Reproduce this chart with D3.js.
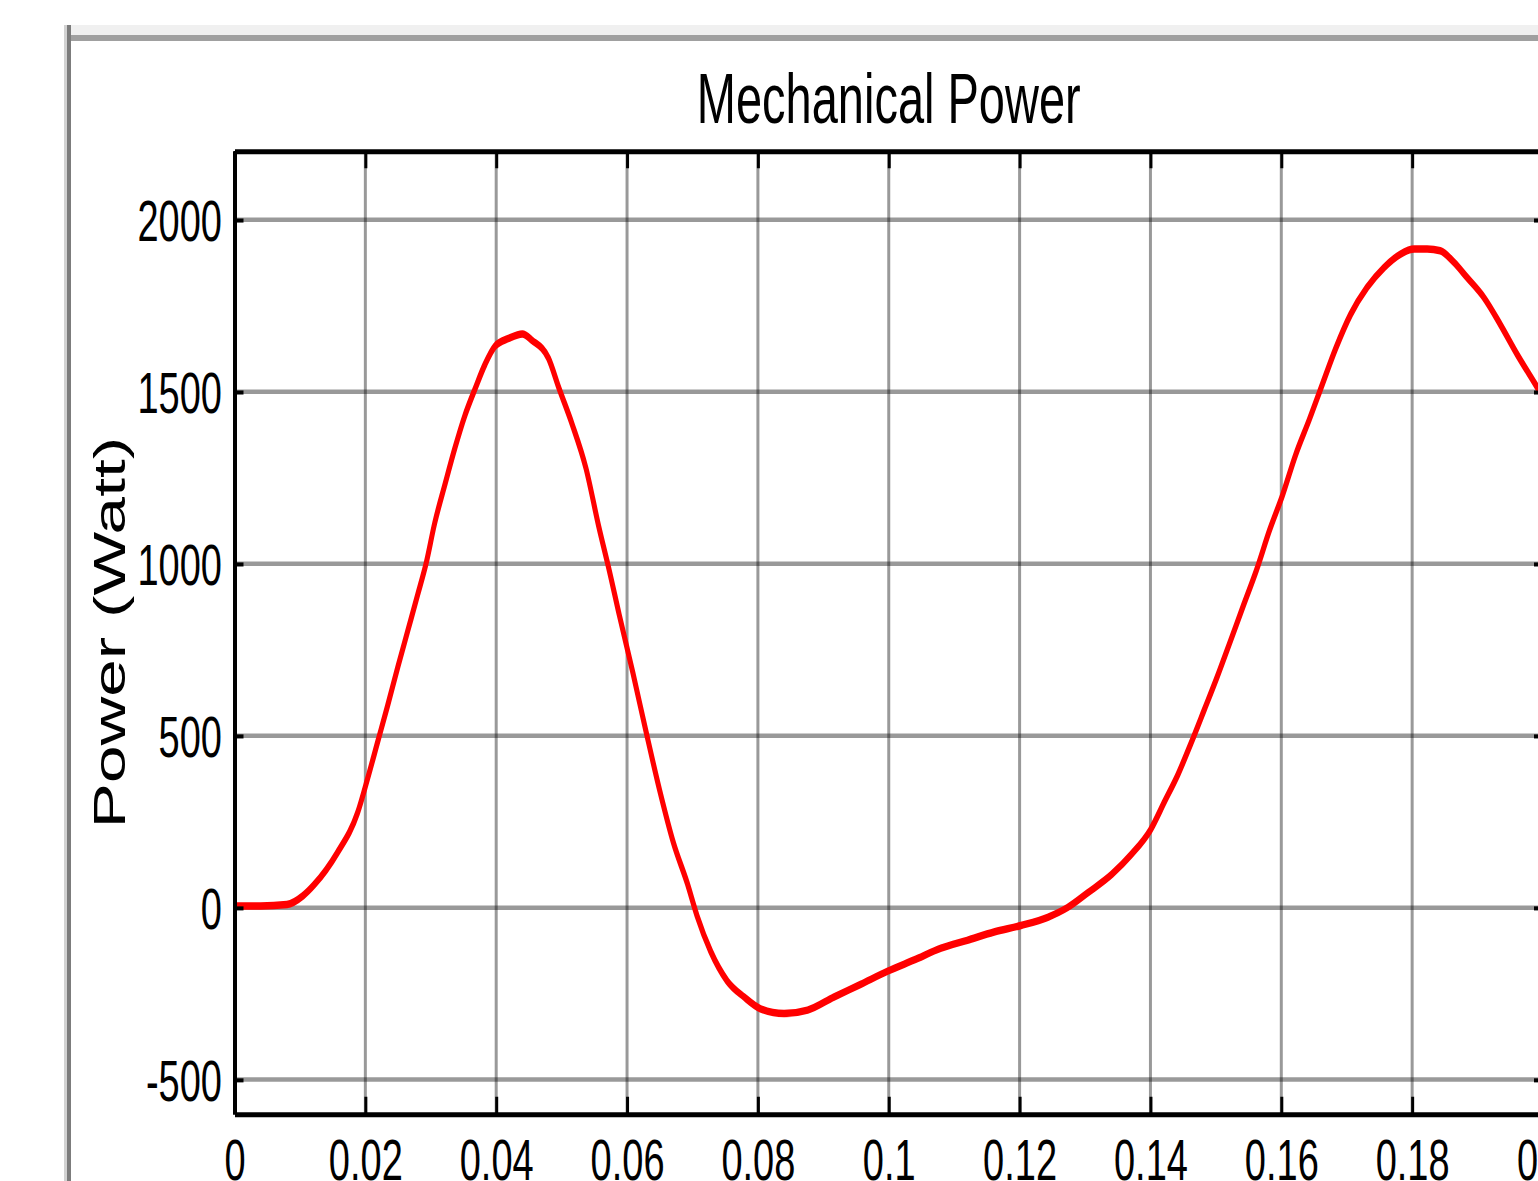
<!DOCTYPE html>
<html>
<head>
<meta charset="utf-8">
<script src="https://cdn.jsdelivr.net/npm/d3@7"></script>
<style>
    body { margin: 0; background: #fff; overflow: hidden; }
    text { font-family: "Liberation Sans", Arial, Helvetica, sans-serif; fill: #000; }
</style>
</head>
<body>
<script>
// time (s)
const time = [
    0, 0.004, 0.008, 0.0105, 0.0122, 0.0157, 0.0188, 0.0204, 0.0219, 0.0234,
    0.025, 0.0265, 0.028, 0.0293, 0.0306, 0.0322, 0.0337, 0.0352, 0.0368, 0.0383,
    0.0398, 0.0419, 0.044, 0.0455, 0.048, 0.0496, 0.0516, 0.0537, 0.0557, 0.0573,
    0.0588, 0.0609, 0.0629, 0.065, 0.0671, 0.0692, 0.0707, 0.0728, 0.0753, 0.0779,
    0.0804, 0.084, 0.0876, 0.0916, 0.0957, 0.0998, 0.1039, 0.108, 0.112, 0.1161,
    0.1202, 0.1243, 0.1273, 0.1304, 0.1341, 0.1371, 0.14, 0.1422, 0.1442, 0.1462,
    0.1482, 0.1502, 0.1522, 0.1542, 0.1562, 0.1582, 0.1602, 0.1622, 0.1643, 0.1663,
    0.1683, 0.1706, 0.1731, 0.1757, 0.1782, 0.1803, 0.1823, 0.1843, 0.1864, 0.1884,
    0.191, 0.1935, 0.1961, 0.1986, 0.2
];

// mechanical power (W)
const power = [
    5, 5, 9, 35, 67, 159, 275, 379, 483, 587,
    702, 806, 910, 1002, 1118, 1233, 1337, 1430, 1510, 1580,
    1632, 1655, 1668, 1649, 1597, 1510, 1406, 1279, 1106, 979,
    852, 682, 512, 340, 188, 71, -24, -128, -213, -260,
    -294, -308, -298, -260, -223, -185, -152, -118, -95, -71,
    -52, -28, 0, 43, 97, 155, 226, 310, 387, 478,
    574, 671, 774, 878, 981, 1097, 1200, 1317, 1420, 1523,
    1625, 1725, 1803, 1861, 1900, 1915, 1915, 1910, 1876, 1832,
    1773, 1695, 1607, 1529, 1485
];

const xTicks = [0, 0.02, 0.04, 0.06, 0.08, 0.1, 0.12, 0.14, 0.16, 0.18, 0.2];
const xTickLabels = ['0', '0.02', '0.04', '0.06', '0.08', '0.1', '0.12', '0.14', '0.16', '0.18', '0.2'];
const yTicks = [-500, 0, 500, 1000, 1500, 2000];
const yTickLabels = ['-500', '0', '500', '1000', '1500', '2000'];

const chartTitle = 'Mechanical Power';
const yLabel = 'Power (Watt)';

const width = 1538;
const height = 1181;
const stretch = 1.5; // the picture is stretched vertically

const svg = d3.select('body').append('svg')
    .attr('width', width)
    .attr('height', height);

// figure window edges
svg.append('rect').attr('x', 71).attr('y', 25).attr('width', width - 71).attr('height', 10).attr('fill', '#f0f0f0');
svg.append('rect').attr('x', 71).attr('y', 35).attr('width', width - 71).attr('height', 6).attr('fill', '#a0a0a0');
svg.append('rect').attr('x', 64).attr('y', 25).attr('width', 3).attr('height', height - 25).attr('fill', '#d2d2d2');
svg.append('rect').attr('x', 67).attr('y', 25).attr('width', 4).attr('height', height - 25).attr('fill', '#7c7c7c');

// everything else is drawn in unstretched coords
const g = svg.append('g').attr('transform', `scale(1,${stretch})`);

const x = d3.scaleLinear()
    .domain([0, 0.2])
    .range([234.5, 1543]);

const y = d3.scaleLinear()
    .domain([-600, 2200])
    .range([1114 / stretch, 151 / stretch]);

// grid
g.append('g').selectAll('line')
    .data(xTicks)
    .enter().append('line')
    .attr('x1', d => x(d)).attr('x2', d => x(d))
    .attr('y1', y.range()[0]).attr('y2', y.range()[1])
    .attr('stroke', 'rgba(0,0,0,0.4)')
    .attr('stroke-width', 3);

g.append('g').selectAll('line')
    .data(yTicks)
    .enter().append('line')
    .attr('x1', x.range()[0]).attr('x2', x.range()[1])
    .attr('y1', d => y(d)).attr('y2', d => y(d))
    .attr('stroke', 'rgba(0,0,0,0.4)')
    .attr('stroke-width', 3);

// data line
const line = d3.line()
    .x((d, i) => x(time[i]))
    .y(d => y(d))
    .curve(d3.curveMonotoneX);

g.append('path')
    .datum(power)
    .attr('d', line)
    .attr('fill', 'none')
    .attr('stroke', '#ff0000')
    .attr('stroke-width', 5)
    .attr('stroke-linejoin', 'round');

// axes
function styleAxis(sel, domainWidth, tickWidth) {
    sel.select('.domain').attr('stroke', '#000').attr('stroke-width', domainWidth);
    sel.selectAll('.tick line').attr('stroke', '#000').attr('stroke-width', tickWidth);
    sel.selectAll('.tick text')
        .attr('font-size', 38)
        .attr('font-family', '"Liberation Sans", Arial, Helvetica, sans-serif')
        .attr('fill', '#000');
}

const xAxis = g.append('g')
    .attr('transform', `translate(0,${y.range()[0]})`)
    .call(d3.axisBottom(x)
        .tickValues(xTicks)
        .tickFormat((d, i) => xTickLabels[i])
        .tickSizeInner(-11.5)
        .tickSizeOuter(0)
        .tickPadding(16.7));
styleAxis(xAxis, 3.4, 3);

const xAxisTop = g.append('g')
    .attr('transform', `translate(0,${y.range()[1]})`)
    .call(d3.axisTop(x)
        .tickValues(xTicks)
        .tickFormat('')
        .tickSizeInner(-11.5)
        .tickSizeOuter(0));
styleAxis(xAxisTop, 3.4, 3);

const yAxis = g.append('g')
    .attr('transform', `translate(${x.range()[0]},0)`)
    .call(d3.axisLeft(y)
        .tickValues(yTicks)
        .tickFormat((d, i) => yTickLabels[i])
        .tickSizeInner(-9)
        .tickSizeOuter(0)
        .tickPadding(12.5));
styleAxis(yAxis, 4, 2.7);
yAxis.selectAll('.tick text').attr('dy', '0.36em');

const yAxisRight = g.append('g')
    .attr('transform', `translate(${x.range()[1]},0)`)
    .call(d3.axisRight(y)
        .tickValues(yTicks)
        .tickFormat('')
        .tickSizeInner(-9)
        .tickSizeOuter(0));
styleAxis(yAxisRight, 4, 2.7);

// title
g.append('text')
    .attr('x', (x.range()[0] + x.range()[1]) / 2)
    .attr('y', 123 / stretch)
    .attr('text-anchor', 'middle')
    .attr('font-size', 47)
    .text(chartTitle);

// y label
g.append('text')
    .attr('transform', `translate(125,${(y.range()[0] + y.range()[1]) / 2}) rotate(-90)`)
    .attr('text-anchor', 'middle')
    .attr('font-size', 45)
    .text(yLabel);
</script>
</body>
</html>
